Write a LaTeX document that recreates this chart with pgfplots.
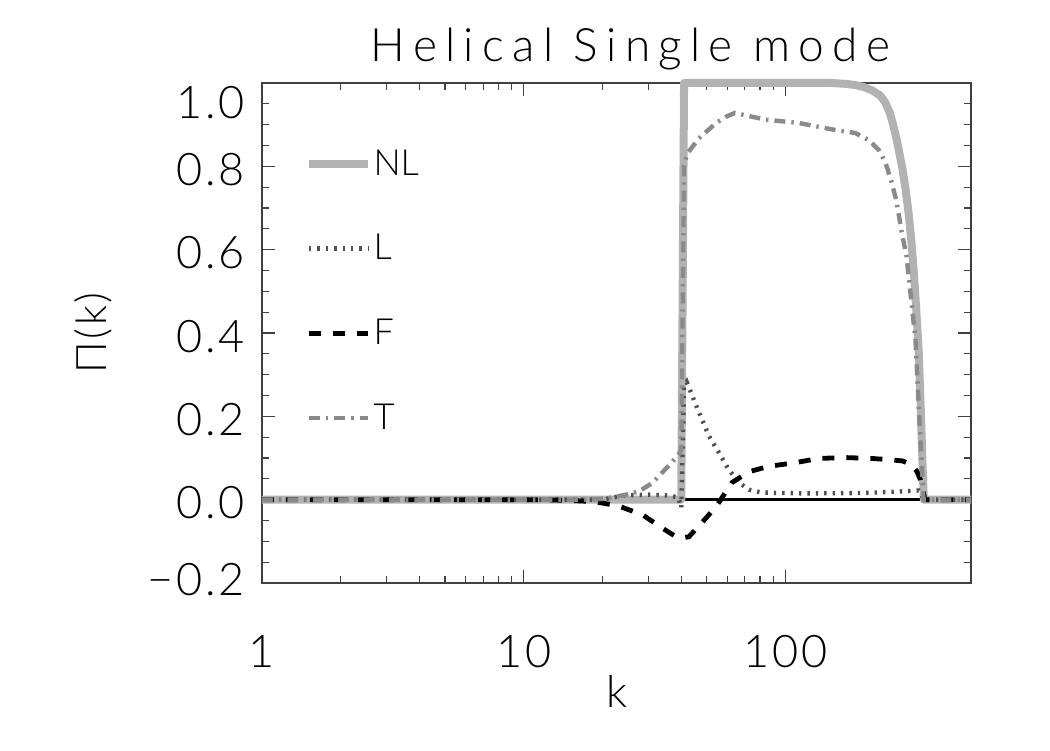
\documentclass[border=0pt]{standalone}
\usepackage{fontspec}
\setmainfont{Lato Light}
\newfontfamily\titlefont{Lato Light}[LetterSpace=18]
\newfontfamily\labelfont{Lato Light}[LetterSpace=6]
\usepackage{pgfplots}
\pgfplotsset{compat=1.18}

\definecolor{nlgray}{HTML}{B2B2B2}
\definecolor{lgray}{HTML}{505050}
\definecolor{tgray}{HTML}{8A8A8A}
\definecolor{axgray}{HTML}{404040}

\pgfplotstableread{
k      NL
1      0
39     0
40     0
41     1.0
80     1.0
150    1.0
170    0.998
185    0.995
200    0.99
215    0.982
230    0.97
240    0.955
250    0.93
258    0.90
265    0.87
272    0.835
280    0.795
288    0.745
296    0.685
303    0.62
310    0.54
316    0.46
323    0.36
329    0.22
334    0.09
338    0
512    0
}\nldata

\pgfplotstableread{
k      L
1      0
20     0
24     0.01
30     0.012
36     0.01
39     0.005
40    -0.02
41     0.27
42     0.282
46.7   0.21
51.1   0.152
55.7   0.113
60.8   0.072
66.4   0.041
72.6   0.024
81.3   0.017
120    0.015
200    0.016
283    0.02
323    0.022
333    0.01
337    0
512    0
}\ldata

\pgfplotstableread{
k      F
1      0
12     0
15    -0.002
17.8  -0.004
20    -0.008
23.2  -0.016
28.4  -0.036
33.8  -0.068
38    -0.088
40.3  -0.092
42.8  -0.089
48    -0.055
54.3  -0.017
62.5   0.041
72.6   0.067
86.4   0.080
109.6  0.089
134    0.099
170    0.101
213    0.099
248    0.096
280    0.093
303    0.084
318    0.068
328    0.048
337    0.017
341    0
512    0
}\fdata

\pgfplotstableread{
k      T
1      0
18     0
20     0.002
22     0.006
24.6   0.012
27.6   0.02
31     0.04
33.8   0.065
36.9   0.09
39.2   0.11
40     0.12
41     0.80
42.1   0.83
46.7   0.867
54.3   0.904
59.8   0.92
64     0.928
84.2   0.912
112.5  0.904
155.7  0.887
185    0.88
208    0.863
227    0.84
241    0.81
254    0.764
266    0.716
278    0.643
290    0.586
314    0.385
328    0.145
337    0
512    0
}\tdata

\begin{document}
\begin{tikzpicture}
\useasboundingbox (-131pt,-83.5pt) rectangle (394pt,291.5pt);
\begin{axis}[
  at={(0,0)}, anchor=south west,
  scale only axis, width=354.5pt, height=250pt,
  xmode=log, xmin=1, xmax=512,
  ymin=-0.2, ymax=1.0,
  clip=false,
  xtick={1,10,100}, xticklabels={1,10,100},
  ytick={-0.2,0,0.2,0.4,0.6,0.8,1.0},
  yticklabels={\raisebox{3.3pt}[\height][\depth]{−0.2},0.0,0.2,0.4,0.6,0.8,\raisebox{-8pt}[\height][\depth]{1.0}},
  minor y tick num=3,
  xtick pos=both, ytick pos=both,
  xticklabel pos=lower, yticklabel pos=left,
  tick align=inside,
  major tick length=6.5pt, minor tick length=3.5pt,
  axis line style={axgray, line width=0.6pt},
  every tick/.style={axgray, line width=0.6pt},
  tick label style={font=\labelfont\fontsize{22.5}{26}\selectfont},
  xticklabel style={anchor=north, inner sep=0pt, yshift=-26pt},
  yticklabel style={anchor=east, inner sep=0pt, xshift=-8.5pt, yshift=-1.7pt},
  title={Helical Single mode},
  title style={at={(0.52,1)}, anchor=base, yshift=4.5pt, inner sep=0pt,
    font=\titlefont\fontsize{23}{27}\selectfont},
  xlabel={k},
  xlabel style={at={(axis description cs:0.5,0)}, anchor=center, yshift=-54pt,
    font=\fontsize{22}{26}\selectfont},
  ylabel={Π(k)},
  ylabel style={at={(axis description cs:0,0.5)}, anchor=center, yshift=84.5pt,
    font=\labelfont\fontsize{21}{25}\selectfont},
  legend image code/.code={\draw[#1] (0pt,0pt) -- (29.5pt,0pt);},
  legend style={draw=none, fill=none, at={(0.06,0.584)}, anchor=west,
    font=\fontsize{18}{21}\selectfont, row sep=26.5pt, inner sep=0pt,
    nodes={inner sep=0.8pt}},
  legend cell align=left,
]
% zero reference line
\addplot[black, line width=1.8pt, forget plot] coordinates {(1,0) (512,0)};
\addplot[nlgray, line width=4pt, line join=round] table[x=k, y=NL] {\nldata};
\addlegendentry{NL}
\addplot[lgray, line width=2.2pt, dash pattern=on 1.2pt off 3pt] table[x=k, y=L] {\ldata};
\addlegendentry{L}
\addplot[black, line width=2.4pt, dash pattern=on 6pt off 6pt] table[x=k, y=F] {\fdata};
\addlegendentry{F}
\addplot[tgray, line width=2.2pt, dash pattern=on 5.5pt off 3pt on 1.2pt off 3pt] table[x=k, y=T] {\tdata};
\addlegendentry{T}
\end{axis}
\end{tikzpicture}
\end{document}
